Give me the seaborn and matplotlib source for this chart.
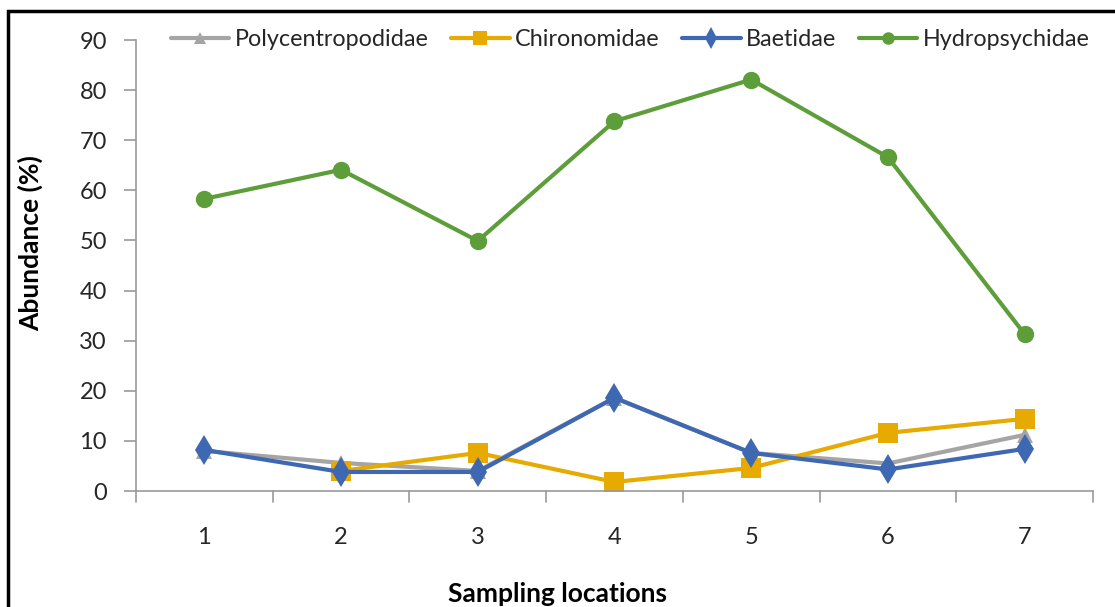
import matplotlib
matplotlib.use("Agg")
import matplotlib.pyplot as plt
import seaborn as sns
import pandas as pd
from matplotlib.patches import Rectangle

locations = [1, 2, 3, 4, 5, 6, 7]
polycentropodidae = [8.0, 5.6, 4.0, 18.6, 7.6, 5.5, 11.2]
chironomidae = [None, 4.0, 7.6, 1.8, 4.6, 11.6, 14.4]
baetidae = [8.2, 3.8, 3.8, 18.6, 7.6, 4.3, 8.4]
hydropsychidae = [58.3, 64.1, 49.9, 73.8, 82.1, 66.6, 31.3]
series_names = ["Polycentropodidae", "Chironomidae", "Baetidae", "Hydropsychidae"]
y_ticks = [0, 10, 20, 30, 40, 50, 60, 70, 80, 90]

sns.set_theme(style="white")
plt.rcParams['font.family'] = ['Lato', 'DejaVu Sans']

fig = plt.figure(figsize=(11.15, 6.07), dpi=100)
ax = fig.add_axes([136/1115, 1-491/607, (1093-136)/1115, (491-40)/607])

styles = {
    "Polycentropodidae": dict(color="#A5A5A5", marker="^", ms=12),
    "Chironomidae": dict(color="#E6AA00", marker="s", ms=14),
    "Baetidae": dict(color="#3F68B3", marker="d", ms=15),
    "Hydropsychidae": dict(color="#5E9E3A", marker="o", ms=12.5),
}
data = [polycentropodidae, chironomidae, baetidae, hydropsychidae]

for name, vals in zip(series_names, data):
    df = pd.DataFrame({"x": locations, "y": vals}).dropna()
    st = styles[name]
    sns.lineplot(data=df, x="x", y="y", ax=ax, color=st["color"], lw=3,
                 marker=st["marker"], markersize=st["ms"], markeredgewidth=0,
                 label=name, sort=False)

txt_color = "#262626"
ax.set_xlim(0.5, 7.5)
ax.set_ylim(0, 90)
ax.set_yticks(y_ticks)
ax.set_yticklabels([str(v) for v in y_ticks], fontsize=17, color=txt_color)
ax.set_xticks(locations)
ax.set_xticklabels([str(v) for v in locations], fontsize=17, color=txt_color)
ax.tick_params(axis="x", length=0, pad=26)
ax.tick_params(axis="y", length=9, color="#999999", width=1.2, direction="out", left=True, pad=12)
# category boundary ticks
for b in [0.5 + i for i in range(8)]:
    ax.plot([b, b], [0, -2.2], color="#999999", lw=1.2, clip_on=False)

for s in ["top", "right"]:
    ax.spines[s].set_visible(False)
for s in ["left", "bottom"]:
    ax.spines[s].set_color("#999999")
    ax.spines[s].set_linewidth(1.2)

ax.set_xlabel("")
ax.set_ylabel("")
fig.text(558/1115, 1/607, "Sampling locations", fontsize=19, fontweight="bold",
         ha="center", va="bottom", color="black")
fig.text(30/1115, 1-243/607, "Abundance (%)", fontsize=19, fontweight="bold",
         ha="center", va="center", rotation=90, color="black")

leg = ax.legend(loc="center left", bbox_to_anchor=(171/1115, 1-40/607), bbox_transform=fig.transFigure,
                ncol=4, frameon=False, fontsize=16.8, handlelength=2.5, columnspacing=0.95,
                handletextpad=0.25, markerscale=0.72, borderaxespad=0, borderpad=0)
for t in leg.get_texts():
    t.set_color(txt_color)

fig.patches.append(Rectangle((8/1115, -0.1), 1.2, 1 - 11/607 + 0.1, transform=fig.transFigure,
                             fill=False, edgecolor="black", lw=2.5))

fig.savefig("out.png", dpi=100)
